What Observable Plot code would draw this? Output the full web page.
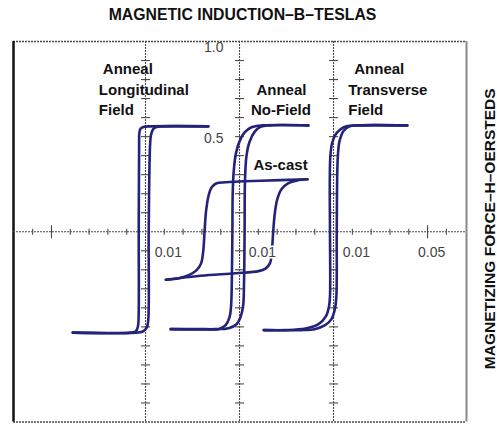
<!DOCTYPE html>
<html>
<head>
<meta charset="utf-8">
<script src="https://cdn.jsdelivr.net/npm/d3@7"></script>
<script src="https://cdn.jsdelivr.net/npm/@observablehq/plot@0.6"></script>
<style>
  html, body { margin: 0; padding: 0; background: #fff; }
  #chart svg { display: block; }
</style>
</head>
<body>
<div id="chart"></div>
<script>
// ---------------- DATA ----------------
const yTitle = "MAGNETIC INDUCTION–B–TESLAS";
const xTitle = "MAGNETIZING FORCE–H–OERSTEDS";

// Each panel draws its own B axis at this H position on the shared H scale (Oe)
const panelAxisH = [-0.05, 0, 0.05];

// B axis ticks (T) on every panel axis
const bTicks = [-0.9, -0.8, -0.7, -0.6, -0.5, -0.4, -0.3, -0.2, -0.1, 0.1, 0.2, 0.3, 0.4, 0.5, 0.6, 0.7, 0.8, 0.9];
const bTickLabels = ["1.0", "0.5"];
const bTickLabelValues = [1.0, 0.5];

// H axis ticks (shared scale, Oe)
const hTicks = [-0.11, -0.09, -0.08, -0.07, -0.06, -0.04, -0.03, -0.02, -0.01,
                 0.01, 0.02, 0.03, 0.04, 0.06, 0.07, 0.08, 0.09, 0.11];
const hMajorTicks = [-0.10, 0.10];
const hTickLabels = ["0.01", "0.01", "0.01", "0.05"];
const hTickLabelValues = [0.01, 0.01, 0.01, 0.05];   // relative to the panel axis
const hTickLabelPanel = [0, 1, 2, 2];

// Hysteresis loops: [H (Oe, relative to panel axis), B (T)]
const longitudinalDown = [[0.0334,0.554],[0.0027,0.554],[-0.0011,0.551],[-0.0027,0.541],[-0.0033,0.517],[-0.0034,0.449],[-0.0036,0.0],[-0.0037,-0.459],[-0.0041,-0.501],[-0.0053,-0.525],[-0.0080,-0.530],[-0.0387,-0.530]];
const longitudinalUp   = [[-0.0387,-0.530],[-0.0037,-0.530],[-0.0011,-0.522],[0.0008,-0.501],[0.0015,-0.459],[0.0017,0.0],[0.0024,0.449],[0.0029,0.507],[0.0040,0.538],[0.0058,0.551],[0.0090,0.554],[0.0334,0.554]];

const noFieldDown = [[0.0366,0.559],[0.0122,0.559],[0.0064,0.549],[0.0027,0.522],[0.0,0.475],[-0.0019,0.412],[-0.0030,0.328],[-0.0036,0.213],[-0.0038,0.0],[-0.0041,-0.260],[-0.0045,-0.391],[-0.0053,-0.449],[-0.0074,-0.491],[-0.0111,-0.512],[-0.0180,-0.512],[-0.0366,-0.512]];
const noFieldUp   = [[-0.0366,-0.512],[-0.0127,-0.512],[-0.0058,-0.507],[-0.0016,-0.486],[0.0005,-0.449],[0.0019,-0.391],[0.0024,-0.260],[0.0027,0.0],[0.0029,0.268],[0.0037,0.399],[0.0053,0.472],[0.0080,0.525],[0.0111,0.551],[0.0164,0.559],[0.0366,0.559]];

const asCastDown = [[0.0361,0.276],[0.0111,0.268],[-0.0074,0.260],[-0.0122,0.255],[-0.0148,0.234],[-0.0164,0.192],[-0.0178,0.108],[-0.0186,0.0],[-0.0193,-0.102],[-0.0204,-0.165],[-0.0228,-0.202],[-0.0270,-0.228],[-0.0323,-0.244],[-0.0392,-0.252]];
const asCastUp   = [[-0.0392,-0.252],[-0.0207,-0.231],[-0.0021,-0.218],[0.0101,-0.207],[0.0138,-0.194],[0.0162,-0.165],[0.0172,-0.102],[0.0179,0.0],[0.0188,0.100],[0.0201,0.171],[0.0223,0.223],[0.0260,0.255],[0.0307,0.270],[0.0361,0.276]];

const transverseDown = [[0.0392,0.559],[0.0122,0.559],[0.0069,0.554],[0.0032,0.535],[0.0008,0.507],[-0.0008,0.465],[-0.0017,0.396],[-0.0020,0.265],[-0.0019,0.0],[-0.0019,-0.339],[-0.0024,-0.391],[-0.0040,-0.444],[-0.0080,-0.486],[-0.0149,-0.509],[-0.0254,-0.517],[-0.0371,-0.517]];
const transverseUp   = [[-0.0371,-0.517],[-0.0175,-0.517],[-0.0101,-0.512],[-0.0045,-0.491],[-0.0011,-0.459],[0.0008,-0.402],[0.0015,-0.339],[0.0017,0.0],[0.0020,0.320],[0.0024,0.415],[0.0032,0.478],[0.0053,0.530],[0.0085,0.554],[0.0133,0.559],[0.0392,0.559]];

const loopNames  = ["Anneal Longitudinal Field", "Anneal No-Field", "As-cast", "Anneal Transverse Field"];
const loopPanels = [0, 1, 1, 2];
const loopBranches = [[longitudinalDown, longitudinalUp], [noFieldDown, noFieldUp], [asCastDown, asCastUp], [transverseDown, transverseUp]];

// ---------------- BUILD ----------------
const rows = loopBranches.flatMap((branches, i) =>
  branches.flatMap((br, j) => br.map(([h, b]) => ({x: panelAxisH[loopPanels[i]] + h, y: b, id: `${loopNames[i]}-${j}`}))));

const bTickRows = panelAxisH.flatMap(h => bTicks.map(b => ({x: h, y: b})));
const hLabelRows = hTickLabels.map((t, i) => ({text: t, x: panelAxisH[hTickLabelPanel[i]] + hTickLabelValues[i]}));
const bLabelRows = bTickLabels.map((t, i) => ({text: t, y: bTickLabelValues[i]}));

// annotations (line by line)
const notes = [
  {text: "Anneal",       x: -0.0727, y: 0.854, anchor: "start"},
  {text: "Longitudinal", x: -0.0748, y: 0.744, anchor: "start"},
  {text: "Field",        x: -0.0748, y: 0.639, anchor: "start"},
  {text: "Anneal",       x: 0.0223,  y: 0.744, anchor: "middle"},
  {text: "No-Field",     x: 0.0220,  y: 0.639, anchor: "middle"},
  {text: "Anneal",       x: 0.0610,  y: 0.854, anchor: "start"},
  {text: "Transverse",   x: 0.0578,  y: 0.744, anchor: "start"},
  {text: "Field",        x: 0.0578,  y: 0.639, anchor: "start"},
  {text: "As-cast",      x: 0.0218,  y: 0.349, anchor: "middle"}
];

const font = "'Liberation Sans', Arial, Helvetica, sans-serif";
const ink = "#23237a";
const grid = "#4a4a4a";
const hDomain = [-0.1202, 0.1207];

const hline = {draw(ctx, size) { const r = Math.sqrt(size / Math.PI); ctx.moveTo(-r, 0); ctx.lineTo(r, 0); }};
const vline = {draw(ctx, size) { const r = Math.sqrt(size / Math.PI); ctx.moveTo(0, -r); ctx.lineTo(0, r); }};

const chart = Plot.plot({
  width: 497,
  height: 424,
  marginTop: 41,
  marginBottom: 2.5,
  marginLeft: 13,
  marginRight: 31,
  x: {domain: hDomain, axis: null},
  y: {domain: [-1, 1], axis: null},
  style: {fontFamily: font, background: "white", overflow: "visible"},
  marks: [
    // frame
    Plot.ruleY([1, -1], {stroke: grid, strokeWidth: 1.6, strokeDasharray: "2,1"}),
    Plot.ruleX([hDomain[0]], {stroke: "#111", strokeWidth: 2.5}),
    Plot.ruleX([hDomain[1]], {stroke: "#888", strokeWidth: 2}),
    // axes
    Plot.ruleX(panelAxisH, {stroke: grid, strokeWidth: 1.1, strokeDasharray: "2,1"}),
    Plot.ruleY([0], {stroke: grid, strokeWidth: 1.1, strokeDasharray: "2,1"}),
    Plot.dot(bTickRows, {x: "x", y: "y", symbol: hline, r: 4.5, fill: "none", stroke: grid, strokeWidth: 1.1}),
    Plot.dot(hTicks, {x: d => d, y: () => 0, symbol: vline, r: 3, fill: "none", stroke: grid, strokeWidth: 1.1}),
    Plot.dot(hMajorTicks, {x: d => d, y: () => 0, symbol: vline, r: 6.5, fill: "none", stroke: grid, strokeWidth: 1.1}),
    // loops
    Plot.line(rows, {x: "x", y: "y", z: "id", stroke: ink, strokeWidth: 2.6, curve: "catmull-rom", strokeLinejoin: "round", strokeLinecap: "round"}),
    // tick labels
    Plot.text(hLabelRows, {x: "x", y: () => 0, text: "text", dx: 4, dy: 21, fontSize: 14, fill: "#444", stroke: "white", strokeWidth: 3, lineAnchor: "middle"}),
    Plot.text(bLabelRows.slice(0, 1), {x: () => panelAxisH[1], y: "y", text: "text", dx: -16, dy: 6, textAnchor: "end", fontSize: 14, fill: "#444", lineAnchor: "middle"}),
    Plot.text(bLabelRows.slice(1), {x: () => panelAxisH[1], y: "y", text: "text", dx: -16, dy: 2, textAnchor: "end", fontSize: 14, fill: "#444", lineAnchor: "middle"}),
    // annotations
    Plot.text(notes.filter(d => d.anchor === "start"), {x: "x", y: "y", text: "text", textAnchor: "start", fontSize: 15, fontWeight: "bold", fill: "#111", lineAnchor: "middle"}),
    Plot.text(notes.filter(d => d.anchor === "middle"), {x: "x", y: "y", text: "text", textAnchor: "middle", fontSize: 15, fontWeight: "bold", fill: "#111", lineAnchor: "middle"}),
    // titles
    Plot.text([yTitle], {frameAnchor: "top", dy: -27, dx: 2.5, text: d => d, textAnchor: "middle", fontSize: 15.8, fontWeight: "bold", fill: "#111", lineAnchor: "middle"}),
    Plot.text([xTitle], {frameAnchor: "right", dx: 24, dy: -3, rotate: -90, text: d => d, textAnchor: "middle", fontSize: 15.5, fontWeight: "bold", fill: "#111", lineAnchor: "middle"})
  ]
});
document.getElementById("chart").appendChild(chart);
</script>
</body>
</html>
